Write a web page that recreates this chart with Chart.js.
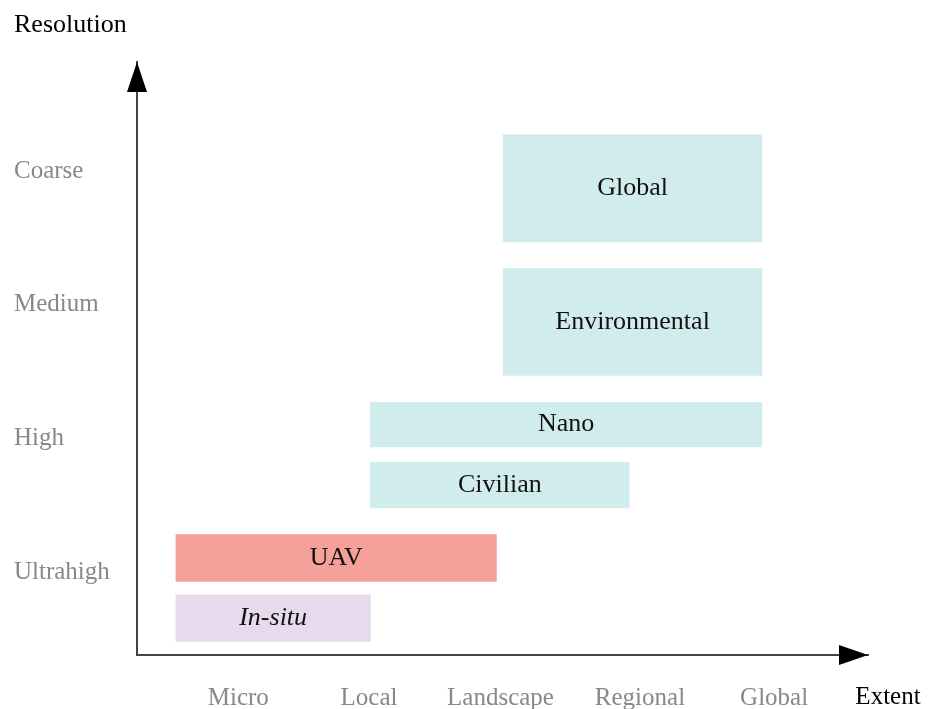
<!DOCTYPE html>
<html>
<head>
<meta charset="utf-8">
<script src="https://cdn.jsdelivr.net/npm/chart.js@4"></script>
<style>
  body { margin: 0; background: #fff; }
  canvas { display: block; }
</style>
</head>
<body>
<canvas id="chart" width="941" height="709"></canvas>
<script>
// Platforms, drawn bottom to top
const platforms = ['In-situ', 'UAV', 'Civilian', 'Nano', 'Environmental', 'Global'];
// Extent covered by each platform (1 = Micro ... 5 = Global)
const extentStart = [0.55, 0.55, 2.0, 2.0, 2.99, 2.99];
const extentEnd = [2.0, 2.94, 3.93, 4.92, 4.92, 4.92];
// Resolution band (1 = Ultrahigh ... 4 = Coarse)
const resolutionLow = [0.48, 0.93, 1.48, 1.935, 2.47, 3.47];
const resolutionHigh = [0.83, 1.28, 1.82, 2.27, 3.27, 4.27];

const extentTicks = [1.015, 1.99, 2.97, 4.01, 5.01];
const extentLabels = ['Micro', 'Local', 'Landscape', 'Regional', 'Global'];
const resolutionTicks = [1, 2, 3, 4];
const resolutionLabels = ['Ultrahigh', 'High', 'Medium', 'Coarse'];

const teal = '#d1ecec';
const barColors = ['#e6daec', '#f5a098', teal, teal, teal, teal];

const serif = "'Liberation Serif', 'DejaVu Serif', serif";

// One dataset per platform so each bar gets its own thickness
const datasets = platforms.map((name, i) => ({
    label: name,
    data: [{ y: (resolutionLow[i] + resolutionHigh[i]) / 2, x: [extentStart[i], extentEnd[i]] }],
    backgroundColor: barColors[i],
    borderWidth: 0,
    grouped: false,
    barThickness: function(ctx) {
        const y = ctx.chart.scales.y;
        const h = Math.abs(y.getPixelForValue(resolutionHigh[i]) - y.getPixelForValue(resolutionLow[i]));
        return isFinite(h) && h > 0 ? h : 40;
    }
}));

// Text inside bars, arrows and axis titles
const annotate = {
    id: 'annotate',
    afterDatasetsDraw(chart) {
        const ctx = chart.ctx;
        ctx.save();
        ctx.fillStyle = '#111';
        ctx.textAlign = 'center';
        ctx.textBaseline = 'middle';
        chart.data.datasets.forEach((ds, i) => {
            const bar = chart.getDatasetMeta(i).data[0];
            ctx.font = (ds.label === 'In-situ' ? 'italic ' : '') + '26px ' + serif;
            ctx.fillText(ds.label, (bar.x + bar.base) / 2, bar.y);
        });
        ctx.restore();
    },
    afterDraw(chart) {
        const ctx = chart.ctx;
        const a = chart.chartArea;
        ctx.save();
        ctx.fillStyle = '#000';
        // up arrow
        ctx.beginPath();
        ctx.moveTo(a.left, a.top);
        ctx.lineTo(a.left - 10, a.top + 30);
        ctx.lineTo(a.left + 10, a.top + 30);
        ctx.closePath();
        ctx.fill();
        // right arrow
        ctx.beginPath();
        ctx.moveTo(a.right, a.bottom);
        ctx.lineTo(a.right - 29, a.bottom - 10);
        ctx.lineTo(a.right - 29, a.bottom + 10);
        ctx.closePath();
        ctx.fill();

        ctx.font = '26px ' + serif;
        ctx.textBaseline = 'middle';
        ctx.textAlign = 'left';
        ctx.fillText('Resolution', 14, 25);
        ctx.font = '25px ' + serif;
        ctx.textAlign = 'center';
        ctx.fillText('Extent', 888, 697);
        ctx.restore();
    }
};

new Chart(document.getElementById('chart'), {
    type: 'bar',
    data: { datasets },
    options: {
        indexAxis: 'y',
        responsive: false,
        animation: false,
        layout: { padding: { top: 62, left: 14, right: 73, bottom: 0 } },
        plugins: { legend: { display: false }, tooltip: { enabled: false } },
        scales: {
            x: {
                type: 'linear',
                min: 0.26,
                max: 5.71,
                offset: false,
                grid: { display: false, drawTicks: false },
                border: { display: true, color: '#444', width: 2 },
                afterBuildTicks: scale => { scale.ticks = extentTicks.map(v => ({ value: v })); },
                afterFit: scale => { scale.height = 54; },
                ticks: {
                    padding: 28,
                    color: '#888',
                    font: { family: serif, size: 25 },
                    callback: (v) => extentLabels[extentTicks.indexOf(v)]
                }
            },
            y: {
                type: 'linear',
                min: 0.379,
                max: 4.815,
                offset: false,
                grid: { display: false, drawTicks: false, offset: false },
                border: { display: true, color: '#444', width: 2 },
                afterBuildTicks: scale => { scale.ticks = resolutionTicks.map(v => ({ value: v })); },
                afterFit: scale => { scale.width = 123; },
                ticks: {
                    crossAlign: 'far',
                    color: '#888',
                    font: { family: serif, size: 25 },
                    callback: (v) => resolutionLabels[resolutionTicks.indexOf(v)]
                }
            }
        }
    },
    plugins: [annotate]
});
</script>
</body>
</html>
